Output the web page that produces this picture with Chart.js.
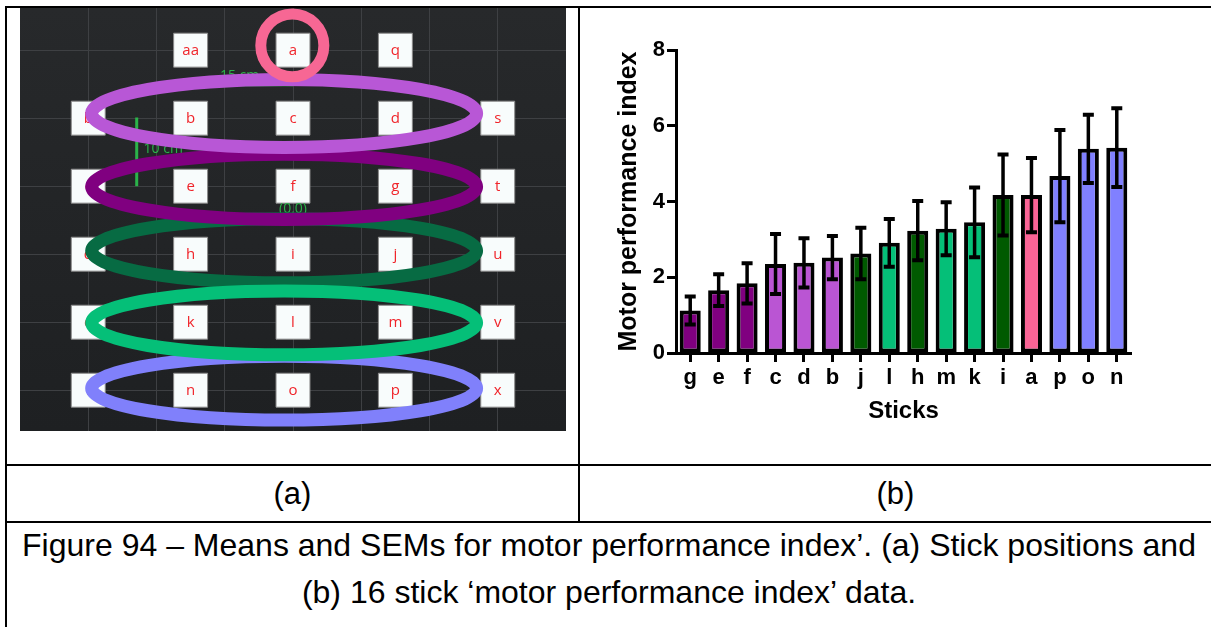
<!DOCTYPE html>
<html>
<head>
<meta charset="utf-8">
<script src="https://cdn.jsdelivr.net/npm/chart.js@4.4.1/dist/chart.umd.min.js"></script>
<style>
html,body{margin:0;padding:0;background:#fff;width:1211px;height:627px;overflow:hidden;font-family:"Liberation Sans",Arial,sans-serif;}
.ln{position:absolute;background:#000;}
#leftWrap{position:absolute;left:20px;top:8px;width:546px;height:423px;background:linear-gradient(to bottom,#27292b,#1e2022);}
#rightWrap{position:absolute;left:581px;top:8px;width:630px;height:456px;}
.cell{position:absolute;display:flex;align-items:center;justify-content:center;font-size:31px;color:#000;white-space:nowrap;}
.capline{position:absolute;left:7px;width:1204px;text-align:center;font-size:32px;line-height:47px;height:47px;white-space:nowrap;color:#000;}
</style>
</head>
<body>
<div class="ln" style="left:5px;top:6px;width:1206px;height:2px"></div>
<div class="ln" style="left:5px;top:6px;width:2px;height:621px"></div>
<div class="ln" style="left:578px;top:6px;width:2px;height:517px"></div>
<div class="ln" style="left:5px;top:464px;width:1206px;height:2px"></div>
<div class="ln" style="left:5px;top:521px;width:1206px;height:2px"></div>

<div id="leftWrap"><canvas id="left" width="546" height="423"></canvas></div>
<div id="rightWrap"><canvas id="right" width="630" height="456"></canvas></div>

<div class="cell" style="left:7px;top:466px;width:571px;height:55px;">(a)</div>
<div class="cell" style="left:580px;top:466px;width:631px;height:55px;">(b)</div>
<div class="capline" style="top:522px;">Figure 94 – Means and SEMs for motor performance index’. (a) Stick positions and</div>
<div class="capline" style="top:569px;">(b) 16 stick ‘motor performance index’ data.</div>

<script>
// ---------- Panel (b) data ----------
const sticks = ['g','e','f','c','d','b','j','l','h','m','k','i','a','p','o','n'];
const means  = [1.12,1.66,1.84,2.35,2.38,2.52,2.63,2.91,3.23,3.28,3.45,4.17,4.17,4.67,5.39,5.42];
const sems   = [0.37,0.42,0.53,0.79,0.65,0.57,0.68,0.63,0.78,0.70,0.92,1.07,0.98,1.22,0.90,1.04];
const stickGroup = ['e','e','e','b','b','b','h','k','h','k','k','h','a','n','n','n'];
const yTicks = [0,2,4,6,8];

// ---------- Panel (a) data ----------
const colX = [0,1.5,3,4.5,6];
const rowY = [5,4,3,2,1,0];
const rowLabels = [
  ['','aa','a','q',''],
  ['b','b','c','d','s'],
  ['c','e','f','g','t'],
  ['d','h','i','j','u'],
  ['e','k','l','m','v'],
  ['f','n','o','p','x']
];
const gridX = [0,1,2,3,4,5,6];
const gridY = [0,1,2,3,4,5];
// group rings: key, centre x, centre y, radius x, radius y (grid units)
const ringKeys = ['n','h','k','e','b','a'];
const ringCX   = [2.87,2.87,2.87,2.87,2.87,2.99];
const ringCY   = [0.03,2.05,0.99,2.99,4.07,5.07];
const ringRX   = [2.82,2.82,2.82,2.82,2.82,0.462];
const ringRY   = [0.47,0.47,0.47,0.48,0.50,0.462];

const groupBarColor = {e:'#800080', b:'#ba55d3', h:'#005a00', k:'#05bf78', a:'#fa6496', n:'#8080ff'};
const groupRingColor = {e:'#800080', b:'#b857d6', h:'#076b43', k:'#05bf78', a:'#f76794', n:'#8080fb'};

const FONT = '"Liberation Sans", Arial, sans-serif';

// ---------- Panel (b) chart ----------
const errorBars = {
  id:'errorBars',
  afterDatasetsDraw(chart){
    const {ctx, scales:{y}} = chart;
    const meta = chart.getDatasetMeta(0);
    ctx.save();
    ctx.strokeStyle = '#000';
    meta.data.forEach((bar,i)=>{
      const cx = bar.x;
      const t = y.getPixelForValue(means[i]+sems[i]);
      const b = y.getPixelForValue(means[i]-sems[i]);
      ctx.lineWidth = 3.5;
      ctx.beginPath(); ctx.moveTo(cx,t); ctx.lineTo(cx,b); ctx.stroke();
      ctx.lineWidth = 4;
      ctx.beginPath();
      ctx.moveTo(cx-5.5,t); ctx.lineTo(cx+5.5,t);
      ctx.moveTo(cx-5.5,b); ctx.lineTo(cx+5.5,b);
      ctx.stroke();
    });
    ctx.restore();
  }
};

new Chart(document.getElementById('right'), {
  type:'bar',
  data:{
    labels: sticks,
    datasets:[{
      data: means,
      backgroundColor: stickGroup.map(g=>groupBarColor[g]),
      borderColor:'#000',
      borderWidth:4,
      borderSkipped:false,
      barPercentage:0.74,
      categoryPercentage:1.0
    }]
  },
  options:{
    responsive:false,
    animation:false,
    devicePixelRatio:1,
    events:[],
    layout:{padding:{left:0,right:80,top:42,bottom:0}},
    plugins:{legend:{display:false}, tooltip:{enabled:false}},
    scales:{
      x:{
        offset:true,
        ticks:{color:'#000', font:{family:FONT,size:22,weight:'bold'}, padding:3, maxRotation:0, autoSkip:false},
        grid:{offset:false, drawOnChartArea:false, drawTicks:true, tickLength:9, tickWidth:3, tickColor:'#000'},
        border:{display:true, color:'#000', width:3},
        title:{display:true, text:'Sticks', color:'#000', font:{family:FONT,size:24,weight:'bold'}, padding:{top:0,bottom:38}},
        afterFit(s){ s.height = 111; }
      },
      y:{
        min:0, max:8,
        afterBuildTicks(s){ s.ticks = yTicks.map(v=>({value:v})); },
        ticks:{color:'#000', font:{family:FONT,size:22,weight:'bold'}, padding:2},
        grid:{drawOnChartArea:false, drawTicks:true, tickLength:9, tickWidth:3, tickColor:'#000'},
        border:{display:true, color:'#000', width:3},
        title:{display:true, text:'Motor performance index', color:'#000', font:{family:FONT,size:25,weight:'bold'}, padding:{top:33,bottom:0}},
        afterFit(s){ s.width = 95; }
      }
    }
  },
  plugins:[errorBars]
});

// ---------- Panel (a) chart ----------
const points = [], pointLabels = [];
rowLabels.forEach((row,ri)=>row.forEach((lab,ci)=>{
  if(lab){ points.push({x:colX[ci], y:rowY[ri]}); pointLabels.push(lab); }
}));

// annotation texts/lines (grid units)
const annoTexts = [
  {text:'15 cm', x:1.93, y:4.62, align:'left'},
  {text:'10 cm', x:0.81, y:3.55, align:'left'},
  {text:'(0,0)', x:3.0, y:2.67, align:'center'}
];
const annoLines = [
  {x1:1.93, y1:4.49, x2:3.0, y2:4.49},
  {x1:0.71, y1:4.01, x2:0.71, y2:3.0}
];

const stickOverlay = {
  id:'stickOverlay',
  afterDatasetsDraw(chart){
    const {ctx, scales:{x,y}} = chart;
    ctx.save();
    // letters
    ctx.fillStyle = '#f0242a';
    ctx.font = '15px "Open Sans", "DejaVu Sans", sans-serif';
    ctx.textAlign = 'center';
    ctx.textBaseline = 'middle';
    points.forEach((p,i)=>{
      ctx.fillText(pointLabels[i], x.getPixelForValue(p.x), y.getPixelForValue(p.y)+1);
    });
    // green annotations
    ctx.fillStyle = '#2bb34a';
    ctx.strokeStyle = '#2bb34a';
    ctx.font = '14px "Open Sans", "DejaVu Sans", sans-serif';
    annoTexts.forEach(a=>{
      ctx.textAlign = a.align;
      ctx.fillText(a.text, x.getPixelForValue(a.x), y.getPixelForValue(a.y));
    });
    ctx.lineWidth = 3;
    annoLines.forEach(l=>{
      ctx.beginPath();
      ctx.moveTo(x.getPixelForValue(l.x1), y.getPixelForValue(l.y1));
      ctx.lineTo(x.getPixelForValue(l.x2), y.getPixelForValue(l.y2));
      ctx.stroke();
    });
    // rings
    ringKeys.forEach((k,i)=>{
      const cx = x.getPixelForValue(ringCX[i]);
      const cy = y.getPixelForValue(ringCY[i]);
      const rx = Math.abs(x.getPixelForValue(ringCX[i]+ringRX[i]) - cx);
      const ry = Math.abs(y.getPixelForValue(ringCY[i]+ringRY[i]) - cy);
      ctx.strokeStyle = groupRingColor[k];
      ctx.lineWidth = k==='a' ? 11 : 13;
      ctx.beginPath();
      ctx.ellipse(cx, cy, rx, ry, 0, 0, Math.PI*2);
      ctx.stroke();
    });
    ctx.restore();
  }
};

new Chart(document.getElementById('left'), {
  type:'scatter',
  data:{datasets:[{
    data: points,
    pointStyle:'rect',
    pointRadius:24,
    backgroundColor:'#f8fcfc',
    borderColor:'#8a8a8a',
    borderWidth:1,
    clip:false
  }]},
  options:{
    responsive:false,
    animation:false,
    devicePixelRatio:1,
    events:[],
    layout:{padding:0, autoPadding:false},
    plugins:{legend:{display:false}, tooltip:{enabled:false}},
    scales:{
      x:{type:'linear', min:-1, max:7,
        afterBuildTicks(s){ s.ticks = gridX.map(v=>({value:v})); },
        ticks:{display:false}, grid:{color:'#3e4043', lineWidth:1, drawTicks:false},
        border:{display:false}, afterFit(s){ s.height = 0; }},
      y:{type:'linear', min:-0.6, max:5.62,
        afterBuildTicks(s){ s.ticks = gridY.map(v=>({value:v})); },
        ticks:{display:false}, grid:{color:'#3e4043', lineWidth:1, drawTicks:false},
        border:{display:false}, afterFit(s){ s.width = 0; }}
    }
  },
  plugins:[stickOverlay]
});
</script>
</body>
</html>
